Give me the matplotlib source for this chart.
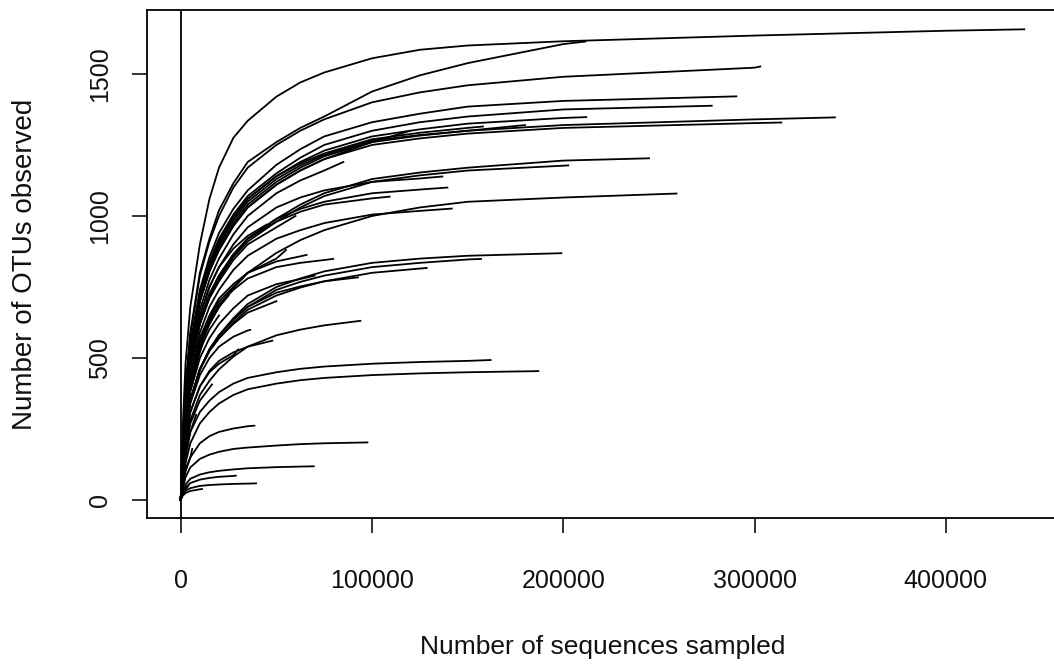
import matplotlib
matplotlib.use("Agg")
from matplotlib import pyplot as plt

plt.rcParams['font.family'] = ['Liberation Sans', 'DejaVu Sans']

depth_grid = [0, 1000, 2500, 5000, 10000, 15000, 20000, 27500, 35000, 50000,
              62500, 75000, 100000, 125000, 150000, 200000, 300000, 400000]

# total reads per sample (right end of each rarefaction curve)
sample_depth = [441000, 211500, 303000, 290500, 277600, 342000, 314000,
                212000, 158000, 244800, 202600, 136800, 139400, 259200,
                141700, 109200, 199000, 157000, 128600, 65800, 79700,
                92700, 93900, 36300, 47900, 16300, 162000, 187000, 38500,
                97600, 69600, 28800, 39400, 11100,
                25000, 32000, 45000, 20000, 12000, 50000, 30000, 60000,
                120000, 180000, 8000, 6000, 70000, 85000, 55000, 4000]

# OTUs observed at full depth
sample_otus = [1657, 1614, 1526, 1421, 1388, 1347, 1329,
               1348, 1315, 1203, 1178, 1139, 1100, 1079,
               1026, 1068, 869, 849, 817, 863, 849,
               784, 631, 599, 561, 407, 493, 454, 262,
               203, 119, 86, 59, 39,
               720, 780, 970, 650, 560, 700, 530, 1000,
               1300, 1320, 300, 180, 790, 1190, 880, 50]

# OTUs observed at each depth_grid value below the sample's total depth
otus_at_depth = [
    [1, 250, 480, 680, 900, 1060, 1170, 1275, 1335, 1420, 1470, 1505, 1555, 1585, 1600, 1615, 1635, 1652],
    [1, 200, 400, 590, 800, 920, 1020, 1115, 1190, 1260, 1310, 1350, 1438, 1495, 1538, 1605],
    [1, 200, 390, 580, 790, 910, 1000, 1100, 1170, 1250, 1300, 1340, 1400, 1435, 1460, 1490, 1522],
    [1, 190, 370, 550, 740, 855, 940, 1025, 1090, 1180, 1235, 1280, 1330, 1360, 1385, 1405],
    [1, 190, 360, 540, 730, 840, 920, 1005, 1070, 1150, 1205, 1250, 1300, 1330, 1350, 1375],
    [1, 180, 350, 520, 700, 810, 890, 975, 1040, 1120, 1170, 1210, 1260, 1283, 1300, 1320, 1340],
    [1, 180, 350, 520, 700, 805, 880, 965, 1030, 1110, 1160, 1200, 1250, 1273, 1290, 1310, 1327],
    [1, 190, 360, 540, 720, 830, 910, 995, 1060, 1140, 1190, 1230, 1280, 1305, 1325, 1345],
    [1, 190, 360, 540, 720, 830, 910, 995, 1060, 1140, 1185, 1220, 1270, 1293, 1310],
    [1, 170, 320, 470, 620, 715, 780, 860, 920, 990, 1040, 1080, 1130, 1153, 1170, 1195],
    [1, 170, 320, 470, 620, 715, 780, 855, 910, 980, 1030, 1070, 1120, 1143, 1160, 1177],
    [1, 180, 330, 490, 650, 750, 820, 900, 960, 1030, 1065, 1090, 1120, 1132],
    [1, 170, 320, 470, 630, 725, 790, 865, 920, 990, 1025, 1050, 1080, 1093],
    [1, 150, 280, 410, 540, 620, 680, 750, 800, 870, 915, 950, 1000, 1030, 1050, 1065],
    [1, 160, 300, 440, 590, 680, 740, 810, 860, 920, 950, 975, 1005, 1018],
    [1, 170, 320, 470, 630, 725, 790, 865, 920, 980, 1015, 1040, 1062],
    [1, 130, 240, 350, 460, 530, 580, 640, 690, 750, 780, 805, 835, 850, 860],
    [1, 130, 240, 350, 460, 530, 580, 635, 680, 740, 768, 790, 820, 835, 847],
    [1, 130, 240, 350, 460, 525, 570, 625, 670, 720, 748, 770, 800, 815],
    [1, 150, 290, 430, 570, 650, 710, 760, 800, 840, 858],
    [1, 150, 280, 410, 550, 630, 690, 740, 780, 820, 835, 845],
    [1, 130, 240, 350, 460, 530, 580, 635, 680, 730, 752, 770],
    [1, 100, 190, 280, 370, 420, 460, 505, 540, 580, 600, 615],
    [1, 120, 230, 340, 440, 500, 540, 575, 597],
    [1, 110, 210, 310, 400, 455, 490, 520, 540],
    [1, 90, 180, 270, 350, 395],
    [1, 70, 150, 240, 310, 350, 380, 410, 430, 450, 462, 470, 480, 486, 490],
    [1, 60, 130, 200, 270, 310, 340, 370, 390, 410, 422, 430, 440, 446, 450],
    [1, 50, 100, 150, 200, 225, 240, 252, 260],
    [1, 40, 80, 115, 145, 160, 170, 180, 185, 192, 197, 200],
    [1, 30, 55, 75, 90, 98, 103, 108, 112, 116, 118],
    [1, 25, 45, 60, 72, 78, 82, 85],
    [1, 20, 33, 42, 50, 53, 55, 57, 58],
    [1, 15, 25, 32, 38],
    [1, 150, 290, 430, 560, 630, 680],
    [1, 150, 280, 420, 560, 640, 700, 750],
    [1, 170, 330, 490, 650, 750, 820, 885, 930],
    [1, 140, 270, 400, 530, 600],
    [1, 130, 260, 390, 520],
    [1, 130, 240, 350, 460, 525, 570, 620, 660],
    [1, 110, 210, 310, 400, 450, 480, 510],
    [1, 170, 320, 470, 620, 710, 770, 845, 900, 960],
    [1, 180, 350, 520, 700, 805, 880, 965, 1030, 1110, 1160, 1200, 1260],
    [1, 185, 355, 530, 710, 820, 900, 985, 1050, 1130, 1178, 1215, 1265, 1285, 1300],
    [1, 80, 160, 240],
    [1, 60, 110, 150],
    [1, 140, 260, 380, 500, 570, 620, 675, 720, 760, 778],
    [1, 175, 335, 500, 670, 775, 850, 935, 1000, 1080, 1125, 1160],
    [1, 150, 280, 410, 540, 620, 680, 745, 800, 850],
    [1, 20, 38],
]

x_ticks = [0, 100000, 200000, 300000, 400000]
y_ticks = [0, 500, 1000, 1500]

fig = plt.figure(figsize=(10.54, 6.66), dpi=100)
# box runs a little past the right edge of the image, as in the original
ax = fig.add_axes([147 / 1054, 148 / 666, 911 / 1054, 508 / 666])

for n, s, vals in zip(sample_depth, sample_otus, otus_at_depth):
    xs = [d for d in depth_grid if d < n]
    assert len(xs) == len(vals), (n, len(xs), len(vals))
    ax.plot(xs + [n], vals + [s], color="black", lw=1.3,
            solid_joinstyle="round")

ax.axvline(0, color="black", lw=1.3)

ax.set_xlim(-17640, 458640)
ax.set_ylim(-63, 1725)
ax.set_xticks(x_ticks)
ax.set_xticklabels([str(v) for v in x_ticks])
ax.set_yticks(y_ticks)
ax.set_yticklabels([str(v) for v in y_ticks], rotation=90, va="center")

ax.tick_params(direction="out", length=11, width=1.2, labelsize=18,
               colors="#111111")
ax.tick_params(axis="x", pad=26)
ax.tick_params(axis="y", pad=14)
for sp in ax.spines.values():
    sp.set_linewidth(1.3)

ax.set_xlabel("Number of sequences sampled", fontsize=19, labelpad=30,
              color="#111111")
ax.set_ylabel("Number of OTUs observed", fontsize=20, labelpad=36,
              color="#111111")

fig.savefig("out.png", dpi=100)
